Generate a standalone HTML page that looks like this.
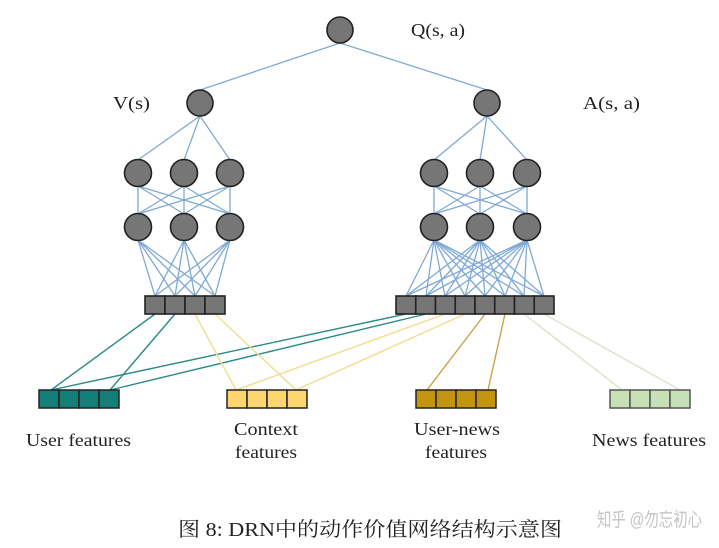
<!DOCTYPE html>
<html><head><meta charset="utf-8"><style>
html,body{margin:0;padding:0;background:#fff;}
svg{display:block;}
text{font-family:"Liberation Serif","Noto Serif CJK SC",serif;fill:#222;}
</style></head><body>
<svg width="719" height="548" viewBox="0 0 719 548" xmlns="http://www.w3.org/2000/svg">
<g stroke="#7fa9d6" stroke-width="1.3" fill="none">
<line x1="340" y1="43" x2="200" y2="90"/><line x1="340" y1="43" x2="487" y2="90"/>
<line x1="200" y1="116" x2="138" y2="160"/><line x1="200" y1="116" x2="184" y2="160"/><line x1="200" y1="116" x2="230" y2="160"/>
<line x1="487" y1="116" x2="434" y2="160"/><line x1="487" y1="116" x2="480" y2="160"/><line x1="487" y1="116" x2="527" y2="160"/>
<line x1="138" y1="186" x2="138" y2="214"/><line x1="138" y1="186" x2="184" y2="214"/><line x1="138" y1="186" x2="230" y2="214"/>
<line x1="184" y1="186" x2="138" y2="214"/><line x1="184" y1="186" x2="184" y2="214"/><line x1="184" y1="186" x2="230" y2="214"/>
<line x1="230" y1="186" x2="138" y2="214"/><line x1="230" y1="186" x2="184" y2="214"/><line x1="230" y1="186" x2="230" y2="214"/>
<line x1="434" y1="186" x2="434" y2="214"/><line x1="434" y1="186" x2="480" y2="214"/><line x1="434" y1="186" x2="527" y2="214"/>
<line x1="480" y1="186" x2="434" y2="214"/><line x1="480" y1="186" x2="480" y2="214"/><line x1="480" y1="186" x2="527" y2="214"/>
<line x1="527" y1="186" x2="434" y2="214"/><line x1="527" y1="186" x2="480" y2="214"/><line x1="527" y1="186" x2="527" y2="214"/>
<line x1="138" y1="240" x2="155" y2="296"/><line x1="138" y1="240" x2="175" y2="296"/><line x1="138" y1="240" x2="195" y2="296"/><line x1="138" y1="240" x2="215" y2="296"/>
<line x1="184" y1="240" x2="155" y2="296"/><line x1="184" y1="240" x2="175" y2="296"/><line x1="184" y1="240" x2="195" y2="296"/><line x1="184" y1="240" x2="215" y2="296"/>
<line x1="230" y1="240" x2="155" y2="296"/><line x1="230" y1="240" x2="175" y2="296"/><line x1="230" y1="240" x2="195" y2="296"/><line x1="230" y1="240" x2="215" y2="296"/>
<line x1="434" y1="240" x2="406" y2="296"/><line x1="434" y1="240" x2="426" y2="296"/><line x1="434" y1="240" x2="445" y2="296"/><line x1="434" y1="240" x2="465" y2="296"/><line x1="434" y1="240" x2="485" y2="296"/><line x1="434" y1="240" x2="505" y2="296"/><line x1="434" y1="240" x2="524" y2="296"/><line x1="434" y1="240" x2="544" y2="296"/>
<line x1="480" y1="240" x2="406" y2="296"/><line x1="480" y1="240" x2="426" y2="296"/><line x1="480" y1="240" x2="445" y2="296"/><line x1="480" y1="240" x2="465" y2="296"/><line x1="480" y1="240" x2="485" y2="296"/><line x1="480" y1="240" x2="505" y2="296"/><line x1="480" y1="240" x2="524" y2="296"/><line x1="480" y1="240" x2="544" y2="296"/>
<line x1="527" y1="240" x2="406" y2="296"/><line x1="527" y1="240" x2="426" y2="296"/><line x1="527" y1="240" x2="445" y2="296"/><line x1="527" y1="240" x2="465" y2="296"/><line x1="527" y1="240" x2="485" y2="296"/><line x1="527" y1="240" x2="505" y2="296"/><line x1="527" y1="240" x2="524" y2="296"/><line x1="527" y1="240" x2="544" y2="296"/>
</g>
<g stroke-width="1.4">
<line x1="155" y1="314" x2="51" y2="390" stroke="#2a8a85"/><line x1="175" y1="314" x2="110" y2="390" stroke="#2a8a85"/>
<line x1="406" y1="314" x2="51" y2="390" stroke="#2a8a85"/><line x1="426" y1="314" x2="110" y2="390" stroke="#2a8a85"/>
<line x1="195" y1="314" x2="236" y2="390" stroke="#f3dc8e"/><line x1="215" y1="314" x2="296" y2="390" stroke="#f3dc8e"/>
<line x1="445" y1="314" x2="236" y2="390" stroke="#f3dc8e"/><line x1="465" y1="314" x2="296" y2="390" stroke="#f3dc8e"/>
<line x1="485" y1="314" x2="427" y2="390" stroke="#c9a24a"/><line x1="505" y1="314" x2="488" y2="390" stroke="#c9a24a"/>
<line x1="524" y1="314" x2="622" y2="390" stroke="#d9e3cc"/><line x1="544" y1="314" x2="680" y2="390" stroke="#d9e3cc"/>
</g>
<g fill="#767676" stroke="#222" stroke-width="1.6">
<ellipse cx="340" cy="30" rx="13" ry="13"/>
<ellipse cx="200" cy="103" rx="13" ry="13"/><ellipse cx="487" cy="103" rx="13" ry="13"/>
<ellipse cx="138" cy="173" rx="13.5" ry="13.5"/><ellipse cx="184" cy="173" rx="13.5" ry="13.5"/><ellipse cx="230" cy="173" rx="13.5" ry="13.5"/>
<ellipse cx="138" cy="227" rx="13.5" ry="13.5"/><ellipse cx="184" cy="227" rx="13.5" ry="13.5"/><ellipse cx="230" cy="227" rx="13.5" ry="13.5"/>
<ellipse cx="434" cy="173" rx="13.5" ry="13.5"/><ellipse cx="480" cy="173" rx="13.5" ry="13.5"/><ellipse cx="527" cy="173" rx="13.5" ry="13.5"/>
<ellipse cx="434" cy="227" rx="13.5" ry="13.5"/><ellipse cx="480" cy="227" rx="13.5" ry="13.5"/><ellipse cx="527" cy="227" rx="13.5" ry="13.5"/>
<rect x="145" y="296" width="20" height="18"/><rect x="165" y="296" width="20" height="18"/><rect x="185" y="296" width="20" height="18"/><rect x="205" y="296" width="20" height="18"/>
<rect x="396" y="296" width="19.75" height="18"/><rect x="415.75" y="296" width="19.75" height="18"/><rect x="435.5" y="296" width="19.75" height="18"/><rect x="455.25" y="296" width="19.75" height="18"/><rect x="475" y="296" width="19.75" height="18"/><rect x="494.75" y="296" width="19.75" height="18"/><rect x="514.5" y="296" width="19.75" height="18"/><rect x="534.25" y="296" width="19.75" height="18"/>
</g>
<g stroke="#222" stroke-width="1.5">
<g fill="#137f78"><rect x="39" y="390" width="20" height="18"/><rect x="59" y="390" width="20" height="18"/><rect x="79" y="390" width="20" height="18"/><rect x="99" y="390" width="20" height="18"/></g>
<g fill="#fdd76e"><rect x="227" y="390" width="20" height="18"/><rect x="247" y="390" width="20" height="18"/><rect x="267" y="390" width="20" height="18"/><rect x="287" y="390" width="20" height="18"/></g>
<g fill="#c3940f"><rect x="416" y="390" width="20" height="18"/><rect x="436" y="390" width="20" height="18"/><rect x="456" y="390" width="20" height="18"/><rect x="476" y="390" width="20" height="18"/></g>
<g fill="#c8e0b5" stroke="#555"><rect x="610" y="390" width="20" height="18"/><rect x="630" y="390" width="20" height="18"/><rect x="650" y="390" width="20" height="18"/><rect x="670" y="390" width="20" height="18"/></g>
</g>
<g font-size="18">
<text x="411" y="36" textLength="54" lengthAdjust="spacingAndGlyphs">Q(s, a)</text>
<text x="113" y="109" textLength="37" lengthAdjust="spacingAndGlyphs">V(s)</text>
<text x="583" y="109" textLength="57" lengthAdjust="spacingAndGlyphs">A(s, a)</text>
<text x="26" y="446" textLength="105" lengthAdjust="spacingAndGlyphs">User features</text>
<text x="234" y="435" textLength="64" lengthAdjust="spacingAndGlyphs">Context</text>
<text x="235" y="458" textLength="62" lengthAdjust="spacingAndGlyphs">features</text>
<text x="414" y="435" textLength="86" lengthAdjust="spacingAndGlyphs">User-news</text>
<text x="425" y="458" textLength="62" lengthAdjust="spacingAndGlyphs">features</text>
<text x="592" y="446" textLength="114" lengthAdjust="spacingAndGlyphs">News features</text>
</g>
<text x="178" y="536" font-size="20" textLength="384" lengthAdjust="spacingAndGlyphs">图 8: DRN中的动作价值网络结构示意图</text>
<text x="597" y="526" font-size="19" textLength="105" lengthAdjust="spacingAndGlyphs" style="fill:#c4c4c4;font-family:'Liberation Sans','Noto Sans CJK SC',sans-serif">知乎 @勿忘初心</text>
</svg>
</body></html>
